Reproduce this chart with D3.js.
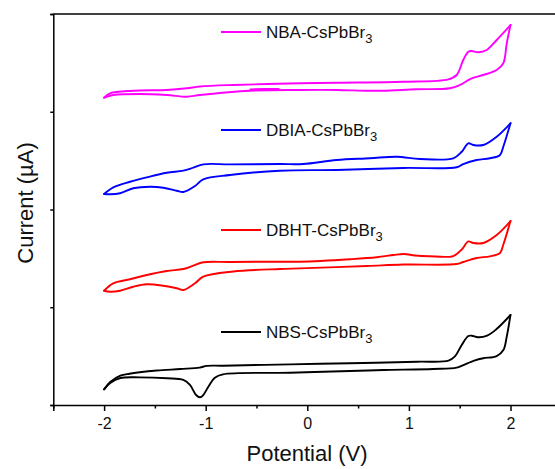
<!DOCTYPE html>
<html>
<head>
<meta charset="utf-8">
<script src="https://cdn.jsdelivr.net/npm/d3@7"></script>
<style>
  html, body { margin: 0; padding: 0; background: #fff; }
  svg { display: block; }
  text { font-family: "Liberation Sans", Arial, sans-serif; fill: #111; }
</style>
</head>
<body>
<div id="chart"></div>
<script>
// ---- data (potential in V, current in arbitrary stacked units) ----
const xMajorTicks = [-2, -1, 0, 1, 2];
const xMinorTicks = [-2.5, -1.5, -0.5, 0.5, 1.5, 2.5];
const yTicks = [0, 1, 2, 3, 4];

const seriesNames = ["NBA-CsPbBr", "DBIA-CsPbBr", "DBHT-CsPbBr", "NBS-CsPbBr"];
const seriesColors = ["#FF00FF", "#0000FF", "#FF0000", "#000000"];

const nbaForward = [[-2.00,3.144],[-1.942,3.189],[-1.713,3.215],[-1.384,3.223],[-1.187,3.240],[-1.056,3.258],[-0.728,3.274],[-0.072,3.291],[0.289,3.297],[0.945,3.307],[1.388,3.332],[1.47,3.376],[1.535,3.529],[1.585,3.614],[1.618,3.621],[1.683,3.608],[1.766,3.632],[1.864,3.734],[2.00,3.887]];
const nbaReverse = [[2.00,3.887],[1.963,3.700],[1.929,3.496],[1.864,3.427],[1.732,3.376],[1.618,3.342],[1.503,3.274],[1.404,3.240],[1.077,3.230],[0.748,3.215],[0.585,3.215],[0.289,3.223],[-0.072,3.223],[-0.564,3.215],[-1.056,3.171],[-1.187,3.154],[-1.384,3.171],[-1.647,3.182],[-1.909,3.171],[-2.00,3.144]];
const nbaStart = [[-0.56,3.228],[-0.42,3.233],[-0.28,3.232]];

const dbiaForward = [[-2.00,2.159],[-1.909,2.227],[-1.745,2.284],[-1.581,2.329],[-1.384,2.376],[-1.22,2.397],[-1.122,2.428],[-1.024,2.462],[-0.761,2.462],[-0.269,2.465],[-0.042,2.465],[0.289,2.506],[0.617,2.524],[0.88,2.540],[1.109,2.517],[1.437,2.524],[1.52,2.591],[1.585,2.677],[1.634,2.660],[1.732,2.660],[1.864,2.745],[2.00,2.882]];
const dbiaReverse = [[2.00,2.882],[1.929,2.642],[1.897,2.558],[1.798,2.524],[1.667,2.506],[1.535,2.465],[1.47,2.432],[0.945,2.425],[0.289,2.404],[-0.269,2.397],[-0.761,2.353],[-1.024,2.309],[-1.105,2.240],[-1.22,2.179],[-1.285,2.192],[-1.417,2.223],[-1.548,2.233],[-1.713,2.217],[-1.843,2.166],[-1.942,2.156],[-2.00,2.159]];

const dbhtForward = [[-2.00,1.169],[-1.91,1.245],[-1.745,1.286],[-1.58,1.330],[-1.384,1.371],[-1.22,1.391],[-1.122,1.425],[-1.024,1.460],[-0.761,1.463],[-0.269,1.466],[-0.072,1.466],[0.42,1.491],[0.683,1.511],[0.85,1.535],[0.95,1.545],[1.06,1.530],[1.2,1.522],[1.437,1.524],[1.52,1.591],[1.585,1.673],[1.634,1.657],[1.732,1.657],[1.864,1.739],[2.00,1.882]];
const dbhtReverse = [[2.00,1.882],[1.929,1.640],[1.897,1.555],[1.798,1.521],[1.667,1.504],[1.535,1.463],[1.47,1.442],[0.945,1.437],[0.585,1.422],[-0.072,1.398],[-0.269,1.391],[-0.728,1.366],[-1.024,1.313],[-1.105,1.245],[-1.22,1.176],[-1.285,1.194],[-1.417,1.220],[-1.581,1.235],[-1.713,1.210],[-1.843,1.169],[-1.942,1.159],[-2.00,1.169]];

const nbsForward = [[-2.00,0.16],[-1.94,0.235],[-1.84,0.30],[-1.75,0.32],[-1.65,0.335],[-1.48,0.353],[-1.25,0.368],[-1.06,0.382],[-0.99,0.40],[-0.83,0.402],[-0.17,0.416],[0.42,0.427],[1.08,0.443],[1.39,0.453],[1.45,0.494],[1.52,0.614],[1.585,0.706],[1.62,0.709],[1.68,0.693],[1.77,0.709],[1.86,0.774],[2.00,0.921]];
const nbsReverse = [[2.00,0.921],[1.963,0.699],[1.93,0.563],[1.864,0.501],[1.732,0.478],[1.651,0.457],[1.535,0.409],[1.47,0.382],[1.24,0.368],[0.75,0.358],[0.42,0.348],[-0.17,0.330],[-0.83,0.314],[-0.91,0.279],[-0.974,0.187],[-1.024,0.102],[-1.056,0.079],[-1.095,0.102],[-1.155,0.205],[-1.22,0.256],[-1.38,0.273],[-1.65,0.283],[-1.84,0.276],[-1.94,0.225],[-2.00,0.16]];

const seriesSegments = [
  [nbaForward, nbaReverse, nbaStart],
  [dbiaForward, dbiaReverse],
  [dbhtForward, dbhtReverse],
  [nbsForward, nbsReverse]
];

// ---- layout ----
const W = 555, H = 469;
const mLeft = 53.3, mRight = 561.3, mTop = 14, mBottom = 405;
const legendY = [32, 130, 230, 332];

const svg = d3.select("#chart").append("svg").attr("width", W).attr("height", H);

const x = d3.scaleLinear().domain([-2.5, 2.5]).range([mLeft, mRight]);
const y = d3.scaleLinear().domain([0, 4]).range([mBottom, mTop]);

const line = d3.line().x(d => x(d[0])).y(d => y(d[1])).curve(d3.curveCatmullRom.alpha(0.5));

// curves
seriesSegments.forEach((segs, i) => {
  const g = svg.append("g");
  segs.forEach(seg => {
    g.append("path").datum(seg)
      .attr("d", line)
      .attr("fill", "none")
      .attr("stroke", seriesColors[i])
      .attr("stroke-width", 1.9)
      .attr("stroke-linejoin", "round")
      .attr("stroke-linecap", "round");
  });
});

// frame (top/right)
svg.append("line").attr("x1", mLeft).attr("x2", mRight).attr("y1", mTop).attr("y2", mTop)
  .attr("stroke", "#000").attr("stroke-width", 1.5);
svg.append("line").attr("x1", mRight).attr("x2", mRight).attr("y1", mTop).attr("y2", mBottom)
  .attr("stroke", "#000").attr("stroke-width", 1.5);

// bottom axis
const xAxis = svg.append("g").attr("transform", `translate(0,${mBottom})`)
  .call(d3.axisBottom(x).tickValues(xMajorTicks).tickSize(6).tickPadding(7).tickFormat(d => String(d)));
const xMinor = svg.append("g").attr("transform", `translate(0,${mBottom})`)
  .call(d3.axisBottom(x).tickValues(xMinorTicks).tickSize(3.5).tickFormat(""));
[xAxis, xMinor].forEach(a => {
  a.select(".domain").attr("stroke-width", 1.5).attr("stroke", "#000");
  a.selectAll(".tick line").attr("stroke-width", 1.5).attr("stroke", "#000");
});
xMinor.select(".domain").remove();
xAxis.selectAll(".tick text")
  .style("font-family", '"Liberation Sans", Arial, sans-serif')
  .style("font-size", "16px").attr("fill", "#111");

// left axis
const yAxis = svg.append("g").attr("transform", `translate(${mLeft},0)`)
  .call(d3.axisLeft(y).tickValues(yTicks).tickSize(3).tickFormat(""));
yAxis.select(".domain").attr("stroke-width", 1.5).attr("stroke", "#000");
yAxis.selectAll(".tick line").attr("stroke-width", 1.5).attr("stroke", "#000");

// axis titles
svg.append("text").attr("x", 307).attr("y", 461).attr("text-anchor", "middle")
  .style("font-size", "22px").text("Potential (V)");
svg.append("text").attr("transform", "translate(33,203) rotate(-90)").attr("text-anchor", "middle")
  .style("font-size", "22px").text("Current (\u00B5A)");

// legends
seriesNames.forEach((name, i) => {
  const ly = legendY[i];
  svg.append("line").attr("x1", 221).attr("x2", 261).attr("y1", ly).attr("y2", ly)
    .attr("stroke", seriesColors[i]).attr("stroke-width", 1.9);
  const t = svg.append("text").attr("x", 266).attr("y", ly + 6).style("font-size", "17px");
  t.append("tspan").text(name);
  t.append("tspan").attr("dy", 5).style("font-size", "13px").text("3");
});
</script>
</body>
</html>
